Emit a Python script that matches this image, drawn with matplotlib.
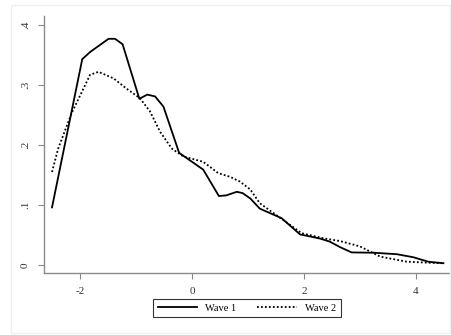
import matplotlib
matplotlib.use("Agg")
import matplotlib.pyplot as plt
from matplotlib.patches import Rectangle

# density estimates
wave1_x = [-2.5, -1.96, -1.82, -1.49, -1.375, -1.24, -0.94, -0.80, -0.66, -0.51,
           -0.23, 0.20, 0.48, 0.61, 0.80, 0.90, 1.04, 1.21, 1.60, 1.93, 2.29, 2.46,
           2.64, 2.85, 3.24, 3.66, 3.95, 4.22, 4.49]
wave1_y = [0.096, 0.343, 0.355, 0.377, 0.377, 0.368, 0.277, 0.284, 0.281, 0.264,
           0.187, 0.159, 0.115, 0.116, 0.122, 0.120, 0.111, 0.094, 0.078, 0.051,
           0.044, 0.039, 0.030, 0.021, 0.0205, 0.018, 0.013, 0.0055, 0.003]

wave2_x = [-2.5, -2.39, -2.15, -1.82, -1.67, -1.40, -1.17, -0.93, -0.75, -0.57,
           -0.36, -0.155, 0.20, 0.47, 0.68, 0.857, 1.04, 1.21, 1.63, 1.96, 2.35,
           2.64, 3.0, 3.36, 3.83, 4.19, 4.46]
wave2_y = [0.155, 0.194, 0.253, 0.317, 0.322, 0.311, 0.294, 0.278, 0.256, 0.222,
           0.194, 0.181, 0.172, 0.153, 0.147, 0.139, 0.126, 0.103, 0.075, 0.053,
           0.0445, 0.040, 0.031, 0.014, 0.0056, 0.004, 0.003]

xticks = [-2, 0, 2, 4]
yticks = [0, 0.1, 0.2, 0.3, 0.4]
ytick_labels = ["0", ".1", ".2", ".3", ".4"]

plt.rcParams['font.family'] = ['Liberation Serif', 'DejaVu Serif']

fig = plt.figure(figsize=(4.51, 3.35), dpi=100)
fig.patches.append(Rectangle((11 / 451, 2 / 335), 439 / 451, 328 / 335,
                             transform=fig.transFigure, fill=False,
                             edgecolor='#eef0f0', linewidth=1.0))
ax = fig.add_axes([44 / 451, 62 / 335, 407 / 451, 257 / 335])

ax.plot(wave1_x, wave1_y, color='black', linewidth=1.3, label='Wave 1')
ax.plot(wave2_x, wave2_y, color='black', linewidth=1.3,
        linestyle=(0, (1, 1.2)), label='Wave 2')

ax.set_xlim(-2.643, 4.625)
ax.set_ylim(-0.0133, 0.415)
for s in ['top', 'right']:
    ax.spines[s].set_visible(False)
for s in ['left', 'bottom']:
    ax.spines[s].set_color('#8a8a8a')
    ax.spines[s].set_linewidth(1.0)

ax.set_xticks(xticks)
ax.set_xticklabels([str(t) for t in xticks])
ax.set_yticks(yticks)
ax.set_yticklabels(ytick_labels, rotation=90, va='center')
ax.tick_params(axis='both', color='#8a8a8a', length=4, width=0.8,
               labelsize=8, labelcolor='#333333', pad=6)

leg = ax.legend(loc='center', bbox_to_anchor=(247 / 451, 27 / 335),
                bbox_transform=fig.transFigure, ncol=2, fontsize=7.5,
                frameon=True, fancybox=False, handlelength=3.8,
                columnspacing=2.0, borderpad=0.45, handletextpad=0.8)
leg.get_frame().set_edgecolor('black')
leg.get_frame().set_linewidth(0.8)

fig.savefig('out.png', dpi=100)
